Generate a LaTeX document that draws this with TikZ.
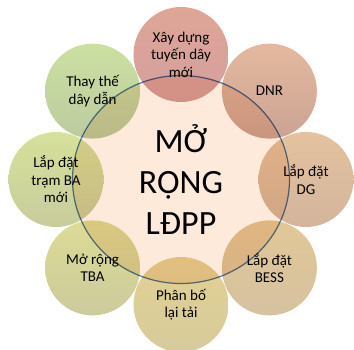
\documentclass[tikz,border=0pt]{standalone}
\usepackage{fontspec}
\setmainfont{Carlito}
\usetikzlibrary{shapes.geometric}
\definecolor{hubfill}{HTML}{FDEADB}
\definecolor{hubline}{HTML}{5B7BB0}
\definecolor{pA1}{HTML}{DFA597}\definecolor{pA2}{HTML}{D49F9E}
\definecolor{pB1}{HTML}{E4B99F}\definecolor{pB2}{HTML}{CBA394}
\definecolor{pC1}{HTML}{E4C29F}\definecolor{pC2}{HTML}{D3B59C}
\definecolor{pD1}{HTML}{E2C797}\definecolor{pD2}{HTML}{D5C2A0}
\definecolor{pE1}{HTML}{E3D194}\definecolor{pE2}{HTML}{D6CB9C}
\definecolor{pF1}{HTML}{DCDB96}\definecolor{pF2}{HTML}{CCCB9C}
\definecolor{pG1}{HTML}{D6E19B}\definecolor{pG2}{HTML}{C8CC9C}
\definecolor{pH1}{HTML}{CCE0A1}\definecolor{pH2}{HTML}{BCCBA0}
\begin{document}
\begin{tikzpicture}[x=1pt,y=1pt,
  hub/.style={ellipse, minimum width=217pt, minimum height=208pt, inner sep=0pt,
    fill=hubfill, draw=hubline, line width=1.2pt, align=center,
    font=\fontsize{34}{41}\selectfont},
  petal/.style={circle, minimum size=95pt, inner sep=0pt, align=center,
    font=\fontsize{15}{17.5}\selectfont, text=black},
  shade/.style 2 args={top color=#1, bottom color=#2, middle color={#1!50!#2}}]
\useasboundingbox (0,0) rectangle (354,-349);
\begin{scope}[shift={(181,-179.5)}]
  % central hub
  \node[hub] (hub) at (0,0) {MỞ\\RỘNG\\LĐPP};
  % surrounding topics, multiplied over the hub
  \begin{scope}[blend mode=multiply]
    \node[petal, shade={pA1}{pA2}] (xay)   at (90:125)   {Xây dựng\\tuyến dây\\mới};
    \node[petal, shade={pB1}{pB2}] (dnr)   at (45:125)   {DNR};
    \node[petal, shade={pC1}{pC2}] (dg)    at (0:125)    {Lắp đặt\\DG};
    \node[petal, shade={pD1}{pD2}] (bess)  at (-45:125)  {Lắp đặt\\BESS};
    \node[petal, shade={pE1}{pE2}] (phan)  at (-90:125)  {Phân bố\\lại tải};
    \node[petal, shade={pF1}{pF2}] (tba)   at (-135:125) {Mở rộng\\TBA};
    \node[petal, shade={pG1}{pG2}] (tram)  at (180:125)  {Lắp đặt\\trạm BA\\mới};
    \node[petal, shade={pH1}{pH2}] (thay)  at (135:125)  {Thay thế\\dây dẫn};
  \end{scope}
\end{scope}
\end{tikzpicture}
\end{document}
